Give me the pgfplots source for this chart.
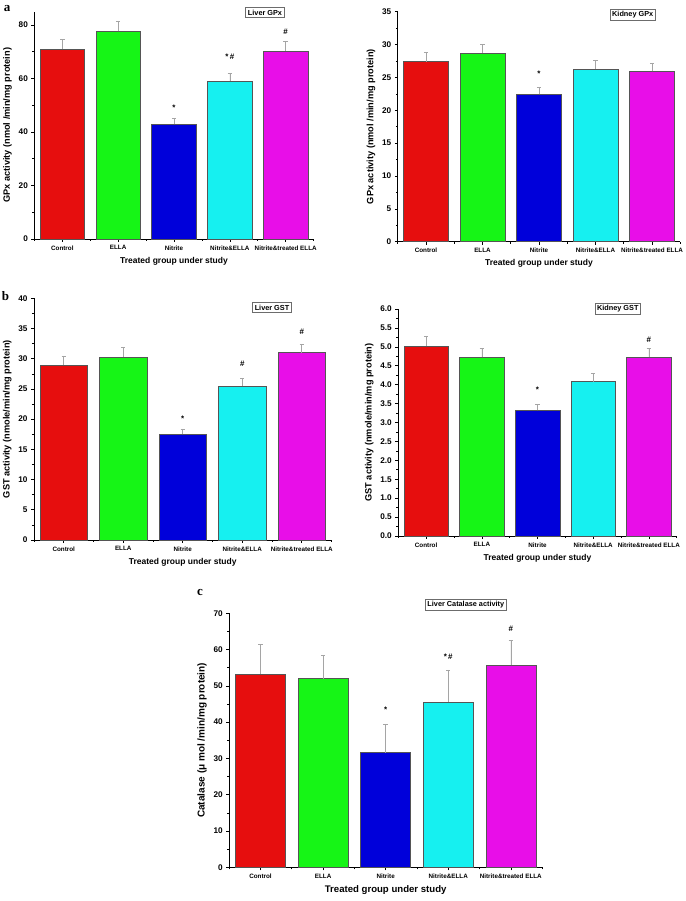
\documentclass[border=0pt]{standalone}
\usepackage{pgfplots}
\pgfplotsset{compat=1.18}
\usepackage{fontspec}
\setmainfont{Liberation Sans}
\newfontfamily\serifface{Liberation Serif}
\definecolor{cR}{RGB}{230,14,14}
\definecolor{cG}{RGB}{22,245,22}
\definecolor{cB}{RGB}{0,0,218}
\definecolor{cC}{RGB}{22,240,240}
\definecolor{cM}{RGB}{232,14,232}
\definecolor{edge}{RGB}{85,85,85}
\definecolor{errc}{RGB}{165,165,165}
\pgfplotsset{
  panel/.style={
    scale only axis, anchor=south west,
    axis x line*=bottom, axis y line*=left,
    axis line style={-, black, line width=0.7pt},
    xmin=-0.5, xmax=4.5, ymin=0,
    xtick={0,...,4}, minor xtick={-0.5,0.5,1.5,2.5,3.5,4.5},
    xticklabels={Control,ELLA,Nitrite,Nitrite\&ELLA,Nitrite\&treated ELLA},
    x tick label style={font=\bfseries\fontsize{6.3}{7}\selectfont},
    y tick label style={font=\bfseries\fontsize{8.2}{9}\selectfont},
    /pgf/number format/assume math mode=true,
    tick align=outside, major tick length=3pt, minor tick length=2pt,
    tick style={black, line width=0.6pt},
    minor y tick num=1,
    xlabel={Treated group under study},
    xlabel style={font=\bfseries\fontsize{8.5}{10}\selectfont},
    ylabel style={font=\bfseries\fontsize{9.2}{10}\selectfont},
    clip=false,
    every axis plot/.append style={ybar, bar width=0.8, bar shift=0pt,
       draw=edge, line width=0.5pt,
       error bars/y dir=plus, error bars/y explicit,
       error bars/error bar style={errc, line width=0.6pt},
       error bars/error mark options={rotate=90, errc, mark size=2.2pt, line width=0.6pt}},
  },
}
\tikzset{
  ann/.style={font=\bfseries\fontsize{8}{9}\selectfont, inner sep=0pt},
  tagbox/.style={draw=gray!85!black, line width=0.6pt, fill=white, inner sep=2.2pt,
     font=\bfseries\fontsize{7.3}{8.5}\selectfont},
  letter/.style={font=\serifface\bfseries\fontsize{13}{14}\selectfont, inner sep=0pt},
}
\begin{document}
\begin{tikzpicture}
\useasboundingbox (0,0) rectangle (685pt,901pt);

% ---------- a: Liver GPx ----------
\begin{axis}[panel, at={(34.4pt,662pt)}, width=279.2pt, height=227.4pt,
  ymax=85, ytick={0,20,40,60,80},
  ylabel={GPx activity (nmol /min/mg protein)}]
\addplot[fill=cR] coordinates {(0,71.0) +- (0,3.6)};
\addplot[fill=cG] coordinates {(1,77.6) +- (0,3.9)};
\addplot[fill=cB] coordinates {(2,42.9) +- (0,2.2)};
\addplot[fill=cC] coordinates {(3,59.1) +- (0,2.9)};
\addplot[fill=cM] coordinates {(4,70.3) +- (0,3.6)};
\node[ann] at (axis cs:2,49.0) {*};
\node[ann] at (axis cs:3,68.3) {*\,\#};
\node[ann] at (axis cs:4,77.5) {\#};
\end{axis}

% ---------- a: Kidney GPx ----------
\begin{axis}[panel, at={(397.75pt,659.3pt)}, width=282.5pt, height=230pt,
  ymax=35, ytick={0,5,...,35},
  ylabel={GPx activity (nmol /min/mg protein)}]
\addplot[fill=cR] coordinates {(0,27.4) +- (0,1.4)};
\addplot[fill=cG] coordinates {(1,28.7) +- (0,1.3)};
\addplot[fill=cB] coordinates {(2,22.4) +- (0,1.1)};
\addplot[fill=cC] coordinates {(3,26.3) +- (0,1.3)};
\addplot[fill=cM] coordinates {(4,25.9) +- (0,1.3)};
\node[ann] at (axis cs:2,25.6) {*};
\end{axis}

% ---------- b: Liver GST ----------
\begin{axis}[panel, at={(34pt,361pt)}, width=297.5pt, height=241.7pt,
  ymax=40, ytick={0,5,...,40},
  ylabel={GST activity (nmole/min/mg protein)}]
\addplot[fill=cR] coordinates {(0,29.0) +- (0,1.45)};
\addplot[fill=cG] coordinates {(1,30.3) +- (0,1.6)};
\addplot[fill=cB] coordinates {(2,17.5) +- (0,0.9)};
\addplot[fill=cC] coordinates {(3,25.5) +- (0,1.3)};
\addplot[fill=cM] coordinates {(4,31.0) +- (0,1.4)};
\node[ann] at (axis cs:2,20.1) {*};
\node[ann] at (axis cs:3,29.1) {\#};
\node[ann] at (axis cs:4,34.4) {\#};
\end{axis}

% ---------- b: Kidney GST ----------
\begin{axis}[panel, at={(398.3pt,365pt)}, width=278.4pt, height=227pt,
  ymax=6, ytick={0,0.5,...,6},
  yticklabel style={/pgf/number format/.cd, fixed, fixed zerofill, precision=1},
  ylabel={GST activity (nmole/min/mg protein)}]
\addplot[fill=cR] coordinates {(0,5.02) +- (0,0.25)};
\addplot[fill=cG] coordinates {(1,4.72) +- (0,0.24)};
\addplot[fill=cB] coordinates {(2,3.32) +- (0,0.16)};
\addplot[fill=cC] coordinates {(3,4.08) +- (0,0.21)};
\addplot[fill=cM] coordinates {(4,4.72) +- (0,0.24)};
\node[ann] at (axis cs:2,3.87) {*};
\node[ann] at (axis cs:4,5.19) {\#};
\end{axis}

% ---------- c: Liver Catalase ----------
\begin{axis}[panel, at={(229.2pt,33.7pt)}, width=312.9pt, height=254pt,
  ymax=70, ytick={0,10,...,70},
  xlabel style={font=\bfseries\fontsize{9.6}{11}\selectfont},
  ylabel style={font=\bfseries\fontsize{10}{11}\selectfont},
  ylabel={Catalase (μ mol /min/mg protein)}]
\addplot[fill=cR] coordinates {(0,53.3) +- (0,8.2)};
\addplot[fill=cG] coordinates {(1,52.0) +- (0,6.4)};
\addplot[fill=cB] coordinates {(2,31.6) +- (0,7.9)};
\addplot[fill=cC] coordinates {(3,45.5) +- (0,8.9)};
\addplot[fill=cM] coordinates {(4,55.8) +- (0,6.7)};
\node[ann] at (axis cs:2,43.5) {*};
\node[ann] at (axis cs:3,58.0) {*\,\#};
\node[ann] at (axis cs:4,65.6) {\#};
\end{axis}

% ---------- tag boxes and panel letters ----------
\node[tagbox] at (265pt,888.5pt) {Liver GPx};
\node[tagbox] at (632.7pt,886.3pt) {Kidney GPx};
\node[tagbox] at (272pt,593.5pt) {Liver GST};
\node[tagbox] at (617.8pt,592.3pt) {Kidney GST};
\node[tagbox] at (465.8pt,296pt) {Liver Catalase activity};
\node[letter, anchor=north] at (7pt,896pt) {a};
\node[letter] at (5.5pt,605pt) {b};
\node[letter] at (200pt,308pt) {c};
\end{tikzpicture}
\end{document}
